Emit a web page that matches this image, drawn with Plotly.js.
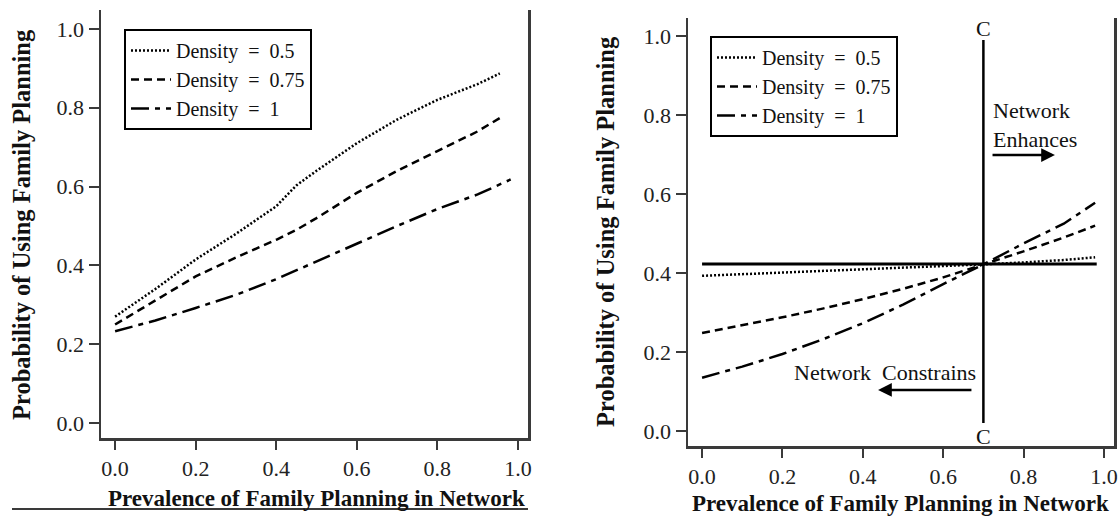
<!DOCTYPE html>
<html>
<head>
<meta charset="utf-8">
<script src="https://cdn.plot.ly/plotly-3.0.1.min.js"></script>
<style>html,body{margin:0;padding:0;background:#fff;}#chart{width:1119px;height:518px;}</style>
</head>
<body>
<div id="chart"></div>
<script>
// ---- Data ----
var seriesNames = ["Density\u00a0\u00a0=\u00a0\u00a00.5", "Density\u00a0\u00a0=\u00a0\u00a00.75", "Density\u00a0\u00a0=\u00a0\u00a01"];

// Left panel
var leftX_a = [0, 0.1, 0.2, 0.3, 0.4, 0.45, 0.5, 0.6, 0.7, 0.8, 0.9, 0.955];
var leftDensity05 = [0.27, 0.34, 0.415, 0.48, 0.55, 0.603, 0.64, 0.71, 0.77, 0.82, 0.86, 0.887];
var leftDensity075 = [0.25, 0.31, 0.372, 0.42, 0.465, 0.49, 0.52, 0.584, 0.64, 0.69, 0.74, 0.774];
var leftX_b = [0, 0.1, 0.2, 0.3, 0.4, 0.5, 0.6, 0.7, 0.8, 0.9, 0.982];
var leftDensity1 = [0.233, 0.26, 0.292, 0.325, 0.365, 0.41, 0.457, 0.50, 0.543, 0.58, 0.618];

// Right panel
var rightX = [0, 0.1, 0.2, 0.3, 0.4, 0.5, 0.6, 0.7, 0.8, 0.9, 0.978];
var rightDensity05 = [0.393, 0.397, 0.401, 0.405, 0.409, 0.413, 0.417, 0.422, 0.427, 0.433, 0.44];
var rightDensity075 = [0.248, 0.268, 0.288, 0.31, 0.334, 0.36, 0.389, 0.422, 0.455, 0.49, 0.52];
var rightDensity1 = [0.135, 0.163, 0.195, 0.232, 0.273, 0.32, 0.372, 0.422, 0.475, 0.525, 0.578];
var baselineX = [0, 0.982];
var baselineY = [0.423, 0.423];
var cLineX = [0.7, 0.7];
var cLineY = [0.02, 0.99];

var tickVals = [0, 0.2, 0.4, 0.6, 0.8, 1.0];
var xTitle = "Prevalence of Family Planning in Network";
var yTitle = "Probability of Using Family Planning";

// ---- Styles ----
var W = 1119, H = 518;
var serif = "Liberation Serif";
var dashes = ["2px,2px", "8px,5px", "18px,6px,5px,6px"];
var lw = 2.5;

function line(x, y, name, i, xa, ya, lg) {
  return {x: x, y: y, name: name, type: "scatter", mode: "lines",
    xaxis: xa, yaxis: ya, legend: lg, hoverinfo: "skip",
    line: {color: "#000", width: lw, dash: dashes[i]}};
}

var traces = [
  line(leftX_a, leftDensity05, seriesNames[0], 0, "x", "y", "legend"),
  line(leftX_a, leftDensity075, seriesNames[1], 1, "x", "y", "legend"),
  line(leftX_b, leftDensity1, seriesNames[2], 2, "x", "y", "legend"),
  {x: baselineX, y: baselineY, type: "scatter", mode: "lines", xaxis: "x2", yaxis: "y2",
    showlegend: false, hoverinfo: "skip", line: {color: "#000", width: 3}},
  {x: cLineX, y: cLineY, type: "scatter", mode: "lines", xaxis: "x2", yaxis: "y2",
    showlegend: false, hoverinfo: "skip", line: {color: "#000", width: 2.5}},
  line(rightX, rightDensity05, seriesNames[0], 0, "x2", "y2", "legend2"),
  line(rightX, rightDensity075, seriesNames[1], 1, "x2", "y2", "legend2"),
  line(rightX, rightDensity1, seriesNames[2], 2, "x2", "y2", "legend2")
];

function px2x(p) { return p / W; }
function px2y(p) { return 1 - p / H; }

var axisLine = "#3a3a3a";
var tickFont = {family: serif, size: 22, color: "#222"};
function xAxis(d) {
  return {domain: d, range: [-0.035, 1.025], tickvals: tickVals, tickformat: ".1f",
    showline: true, linecolor: axisLine, linewidth: 2.5, mirror: false,
    ticks: "outside", ticklen: 9, tickwidth: 2, tickcolor: axisLine,
    showgrid: false, zeroline: false, tickfont: tickFont, fixedrange: true};
}
function yAxis(d, r, anchor) {
  return {domain: d, range: r, tickvals: tickVals, tickformat: ".1f", anchor: anchor,
    showline: true, linecolor: axisLine, linewidth: 2.5, mirror: true,
    ticks: "outside", ticklen: 10, tickwidth: 2, tickcolor: axisLine,
    showgrid: false, zeroline: false, tickfont: tickFont, fixedrange: true};
}

var legendStyle = function (x, y) {
  return {x: x, y: y, xanchor: "left", yanchor: "top", xref: "paper", yref: "paper",
    bgcolor: "#fff", bordercolor: "#000", borderwidth: 2,
    font: {family: serif, size: 20, color: "#111"}, itemwidth: 40, tracegroupgap: 0};
};

var xTitleFont = {family: serif, size: 23, color: "#111", weight: "bold"};
var yTitleFont = {family: serif, size: 24.5, color: "#111", weight: "bold"};
var annFont = {family: serif, size: 22, color: "#111"};

var annotations = [
  // axis titles
  {text: "<b>" + xTitle + "</b>", xref: "paper", yref: "paper", x: px2x(316), y: px2y(498),
    showarrow: false, font: xTitleFont, xanchor: "center", yanchor: "middle"},
  {text: "<b>" + yTitle + "</b>", xref: "paper", yref: "paper", x: px2x(21), y: px2y(225),
    showarrow: false, font: yTitleFont, textangle: -90, xanchor: "center", yanchor: "middle"},
  {text: "<b>" + xTitle + "</b>", xref: "paper", yref: "paper", x: px2x(900), y: px2y(503),
    showarrow: false, font: xTitleFont, xanchor: "center", yanchor: "middle"},
  {text: "<b>" + yTitle + "</b>", xref: "paper", yref: "paper", x: px2x(605), y: px2y(232),
    showarrow: false, font: yTitleFont, textangle: -90, xanchor: "center", yanchor: "middle"},
  // C labels
  {text: "C", xref: "x2", yref: "y2", x: 0.7, y: 1.02, showarrow: false, font: annFont, yanchor: "middle"},
  {text: "C", xref: "x2", yref: "y2", x: 0.7, y: -0.013, showarrow: false, font: annFont, yanchor: "middle"},
  // region labels
  {text: "Network<br>Enhances", xref: "x2", yref: "y2", x: 0.719, y: 0.775, showarrow: false,
    font: annFont, xanchor: "left", yanchor: "middle", align: "left"},
  {text: "Network\u00a0\u00a0Constrains", xref: "x2", yref: "y2", x: 0.686, y: 0.147, showarrow: false,
    font: annFont, xanchor: "right", yanchor: "middle"},
  // arrows
  {text: "", xref: "x2", yref: "y2", x: 0.878, y: 0.699, axref: "x2", ayref: "y2", ax: 0.719, ay: 0.699,
    showarrow: true, arrowhead: 2, arrowsize: 1.1, arrowwidth: 2.5, arrowcolor: "#000"},
  {text: "", xref: "x2", yref: "y2", x: 0.438, y: 0.104, axref: "x2", ayref: "y2", ax: 0.674, ay: 0.104,
    showarrow: true, arrowhead: 2, arrowsize: 1.1, arrowwidth: 2.5, arrowcolor: "#000"}
];

var layout = {
  width: W, height: H,
  margin: {l: 0, r: 0, t: 0, b: 0},
  paper_bgcolor: "#fff", plot_bgcolor: "#fff",
  font: {family: serif, color: "#111"},
  xaxis: xAxis([px2x(101), px2x(528)]),
  yaxis: yAxis([px2y(438), px2y(10)], [-0.038, 1.048], "x"),
  xaxis2: Object.assign(xAxis([px2x(688), px2x(1114)]), {anchor: "y2"}),
  yaxis2: yAxis([px2y(446), px2y(18)], [-0.038, 1.046], "x2"),
  legend: legendStyle(px2x(124), px2y(29)),
  legend2: legendStyle(px2x(710), px2y(36)),
  annotations: annotations,
  shapes: [
    {type: "line", xref: "paper", yref: "paper", x0: px2x(12), x1: px2x(528), y0: px2y(509), y1: px2y(509),
      line: {color: "#3a3a3a", width: 2}}
  ]
};
layout.xaxis.anchor = "y";

Plotly.newPlot("chart", traces, layout, {staticPlot: true, displayModeBar: false});
</script>
</body>
</html>
